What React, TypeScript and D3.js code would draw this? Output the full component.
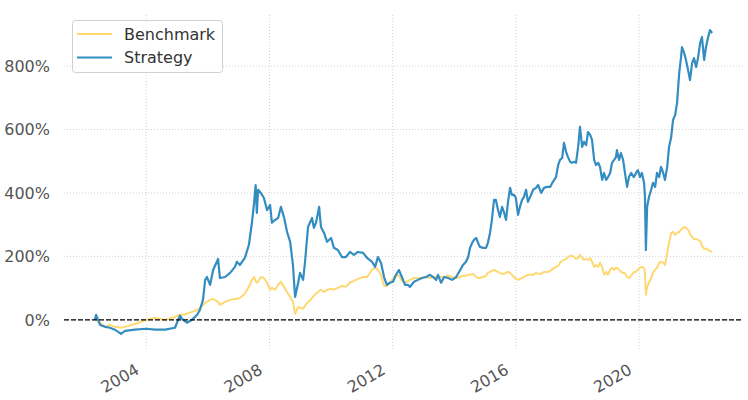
import React from "react";
import * as d3 from "d3";

// decimal years of each sample
const dates = [
  2002.33, 2002.37, 2002.5, 2002.66, 2002.82, 2002.98, 2003.18, 2003.31, 2003.63, 2003.99,
  2004.28, 2004.61, 2004.93, 2005.09, 2005.19, 2005.32, 2005.48, 2005.65, 2005.74, 2005.84,
  2005.91, 2005.97, 2006.07, 2006.17, 2006.33, 2006.39, 2006.56, 2006.72, 2006.88, 2006.94,
  2007.04, 2007.2, 2007.33, 2007.43, 2007.5, 2007.55, 2007.59, 2007.63, 2007.72, 2007.82,
  2007.92, 2008.02, 2008.08, 2008.18, 2008.28, 2008.37, 2008.47, 2008.57, 2008.67, 2008.76,
  2008.83, 2008.93, 2008.99, 2009.09, 2009.15, 2009.25, 2009.31, 2009.38, 2009.44, 2009.51,
  2009.61, 2009.67, 2009.77, 2009.87, 2010.0, 2010.09, 2010.22, 2010.35, 2010.48, 2010.61,
  2010.74, 2010.87, 2011.04, 2011.17, 2011.33, 2011.43, 2011.52, 2011.62, 2011.72, 2011.81,
  2011.91, 2012.01, 2012.11, 2012.2, 2012.3, 2012.4, 2012.5, 2012.56, 2012.69, 2012.82,
  2012.95, 2013.08, 2013.21, 2013.31, 2013.41, 2013.47, 2013.57, 2013.67, 2013.8, 2013.93,
  2014.06, 2014.19, 2014.28, 2014.38, 2014.45, 2014.51, 2014.58, 2014.64, 2014.71, 2014.77,
  2014.83, 2014.93, 2015.03, 2015.09, 2015.16, 2015.22, 2015.29, 2015.35, 2015.42, 2015.48,
  2015.55, 2015.61, 2015.68, 2015.74, 2015.81, 2015.87, 2015.94, 2016.0, 2016.07, 2016.13,
  2016.2, 2016.26, 2016.33, 2016.39, 2016.46, 2016.56, 2016.65, 2016.72, 2016.82, 2016.91,
  2017.01, 2017.11, 2017.2, 2017.3, 2017.37, 2017.43, 2017.5, 2017.56, 2017.63, 2017.69,
  2017.76, 2017.82, 2017.89, 2017.95, 2018.02, 2018.08, 2018.15, 2018.21, 2018.28, 2018.34,
  2018.41, 2018.47, 2018.54, 2018.6, 2018.67, 2018.73, 2018.8, 2018.86, 2018.93, 2018.99,
  2019.06, 2019.12, 2019.19, 2019.25, 2019.28, 2019.35, 2019.41, 2019.48, 2019.54, 2019.61,
  2019.67, 2019.74, 2019.83, 2019.9, 2019.96, 2020.03, 2020.09, 2020.16, 2020.19, 2020.22,
  2020.26, 2020.32, 2020.39, 2020.45, 2020.52, 2020.58, 2020.65, 2020.71, 2020.78, 2020.84,
  2020.91, 2020.97, 2021.04, 2021.1, 2021.17, 2021.23, 2021.3, 2021.36, 2021.39, 2021.46,
  2021.52, 2021.59, 2021.65, 2021.72, 2021.78, 2021.85, 2021.91, 2021.98, 2022.04, 2022.11,
  2022.17, 2022.24, 2022.3, 2022.37,
];

// cumulative returns, %
const strategy = [
  0, 16, -16, -22, -25, -31, -44, -35, -31, -28,
  -31, -31, -25, 13, 0, -9, 0, 16, 31, 63,
  126, 135, 110, 157, 192, 132, 135, 148, 167, 183,
  173, 195, 236, 306, 369, 425, 337, 410, 400, 384,
  346, 362, 306, 315, 321, 356, 324, 277, 246, 173,
  72, 117, 148, 126, 180, 293, 306, 321, 290, 306,
  356, 293, 274, 246, 258, 227, 220, 198, 198, 214,
  205, 214, 211, 195, 183, 167, 198, 180, 135, 110,
  117, 120, 142, 157, 135, 110, 110, 104, 120, 126,
  132, 135, 142, 135, 126, 142, 117, 135, 132, 126,
  135, 157, 173, 183, 198, 227, 243, 252, 258, 243,
  230, 227, 227, 243, 274, 315, 378, 378, 346, 324,
  356, 340, 315, 369, 416, 394, 394, 384, 331, 356,
  378, 387, 410, 372, 387, 410, 416, 425, 400, 416,
  419, 419, 435, 450, 488, 504, 510, 558, 529, 513,
  498, 495, 498, 495, 545, 608, 545, 561, 551, 592,
  583, 567, 504, 488, 495, 482, 441, 463, 441, 450,
  463, 495, 504, 513, 535, 504, 526, 504, 463, 419,
  450, 463, 450, 463, 472, 450, 463, 432, 387, 220,
  356, 387, 410, 432, 419, 463, 450, 482, 463, 441,
  482, 545, 576, 630, 646, 684, 778, 828, 860, 841,
  819, 787, 756, 809, 825, 797, 825, 872, 891, 819,
  860, 891, 913, 904,
];

const benchmark = [
  0, 0, -9, -22, -16, -22, -25, -22, -13, 0,
  6, 0, 9, 16, 16, 19, 25, 31, 38, 47,
  54, 57, 63, 66, 57, 47, 57, 63, 66, 66,
  69, 82, 104, 126, 135, 123, 117, 120, 135, 132,
  117, 95, 101, 95, 110, 120, 104, 88, 72, 57,
  19, 41, 38, 35, 44, 57, 60, 69, 76, 82,
  91, 95, 88, 95, 98, 95, 101, 107, 104, 117,
  123, 129, 135, 135, 158, 164, 158, 142, 107, 107,
  117, 129, 142, 139, 123, 117, 123, 126, 132, 132,
  132, 135, 132, 135, 135, 135, 135, 135, 139, 135,
  132, 135, 139, 139, 142, 142, 145, 142, 135, 132,
  132, 135, 139, 148, 151, 154, 158, 154, 151, 148,
  145, 145, 148, 151, 148, 142, 135, 129, 126, 129,
  132, 135, 139, 142, 142, 142, 148, 145, 145, 151,
  151, 154, 161, 167, 170, 180, 186, 189, 192, 198,
  202, 202, 198, 192, 195, 205, 195, 189, 192, 189,
  195, 183, 167, 173, 167, 180, 167, 142, 151, 142,
  158, 164, 158, 164, 164, 158, 151, 148, 148, 135,
  132, 139, 151, 151, 158, 164, 167, 164, 148, 79,
  104, 117, 132, 148, 158, 164, 180, 183, 180, 173,
  211, 243, 274, 277, 268, 274, 277, 284, 287, 293,
  290, 284, 271, 261, 255, 255, 252, 249, 233, 224,
  224, 221, 217, 214,
];

const yTicks = [0, 200, 400, 600, 800];
const xTickYears = [2004, 2008, 2012, 2016, 2020];
const seriesNames = ["Benchmark", "Strategy"];
const seriesColors = ["#fed872", "#348dc1"];

function toDate(y: number): Date {
  const yr = Math.floor(y);
  const s = Date.UTC(yr, 0, 1);
  const e = Date.UTC(yr + 1, 0, 1);
  return new Date(s + (y - yr) * (e - s));
}

export default function App() {
  const W = 748;
  const H = 400;
  const left = 64;
  const right = 743;
  const top = 15;
  const bottom = 349;

  const t = dates.map(toDate);
  const t0 = +t[0];
  const t1 = +t[t.length - 1];
  const tp = (t1 - t0) * 0.05;
  const x = d3.scaleUtc().domain([new Date(t0 - tp), new Date(t1 + tp)]).range([left, right]);

  const all = strategy.concat(benchmark);
  const vmin = d3.min(all) as number;
  const vmax = d3.max(all) as number;
  const vp = (vmax - vmin) * 0.05;
  const y = d3.scaleLinear().domain([vmin - vp, vmax + vp]).range([bottom, top]);

  const line = d3
    .line<number>()
    .x((_, i) => x(t[i]))
    .y((d) => y(d));

  const font = "'DejaVu Sans', sans-serif";
  const grid = "#d4d4d4";

  return (
    <svg
      width={W}
      height={H}
      style={{ position: "fixed", left: 0, top: 0, background: "#fff" }}
      fontFamily={font}
    >
      <rect x={0} y={0} width={W} height={H} fill="#fff" />
      {/* grid */}
      {yTicks.map((v) => (
        <line key={"gy" + v} x1={left} x2={right} y1={y(v)} y2={y(v)} stroke={grid} strokeWidth={1} strokeDasharray="1,2" />
      ))}
      {xTickYears.map((yr) => {
        const xx = x(toDate(yr));
        return <line key={"gx" + yr} x1={xx} x2={xx} y1={top} y2={bottom} stroke={grid} strokeWidth={1} strokeDasharray="1,2" />;
      })}
      {/* series */}
      <path d={line(benchmark) || ""} fill="none" stroke={seriesColors[0]} strokeWidth={2} strokeLinejoin="round" />
      <path d={line(strategy) || ""} fill="none" stroke={seriesColors[1]} strokeWidth={2.2} strokeLinejoin="round" />
      {/* zero line */}
      <line x1={left} x2={right} y1={y(0)} y2={y(0)} stroke="#000" strokeWidth={1.2} strokeDasharray="5,2" />
      {/* y tick labels */}
      {yTicks.map((v) => (
        <text key={"ty" + v} x={50} y={y(v)} dy="0.36em" textAnchor="end" fontSize={16} fill="#555">
          {v + "%"}
        </text>
      ))}
      {/* x tick labels */}
      {xTickYears.map((yr) => {
        const xx = x(toDate(yr)) - 6;
        const yy = 373;
        return (
          <text key={"tx" + yr} x={xx} y={yy} textAnchor="end" fontSize={16} fill="#555" transform={`rotate(-30 ${xx} ${yy})`}>
            {yr}
          </text>
        );
      })}
      {/* legend */}
      <rect x={72.5} y={20.5} width={150} height={52} rx={3} fill="#fff" fillOpacity={0.8} stroke="#d0d0d0" />
      {seriesNames.map((n, i) => (
        <g key={n}>
          <line x1={77} x2={112} y1={34 + i * 23.5} y2={34 + i * 23.5} stroke={seriesColors[i]} strokeWidth={2} />
          <text x={124} y={34 + i * 23.5} dy="0.36em" fontSize={16} fill="#333">
            {n}
          </text>
        </g>
      ))}
    </svg>
  );
}
